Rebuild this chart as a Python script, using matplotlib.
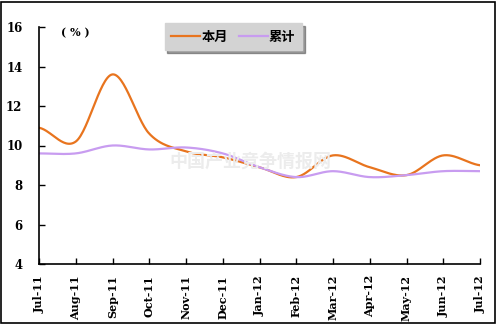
import numpy as np
import matplotlib
matplotlib.use("Agg")
import matplotlib.pyplot as plt
from matplotlib.patches import Rectangle

months = ["Jul-11", "Aug-11", "Sep-11", "Oct-11", "Nov-11", "Dec-11", "Jan-12",
          "Feb-12", "Mar-12", "Apr-12", "May-12", "Jun-12", "Jul-12"]
benyue = [10.9, 10.2, 13.6, 10.6, 9.7, 9.4, 8.9, 8.4, 9.5, 8.9, 8.5, 9.5, 9.0]  # 本月
leiji = [9.6, 9.6, 10.0, 9.8, 9.9, 9.6, 8.9, 8.4, 8.7, 8.4, 8.5, 8.7, 8.7]      # 累计


def smooth(y, n=30):
    # Catmull-Rom, the way the spreadsheet smooths its lines
    y = np.asarray(y, float)
    p = np.concatenate([[y[0]], y, [y[-1]]])
    xs, ys = [], []
    for i in range(len(y) - 1):
        t = np.linspace(0, 1, n, endpoint=False)
        p0, p1, p2, p3 = p[i], p[i + 1], p[i + 2], p[i + 3]
        v = 0.5 * (2 * p1 + (-p0 + p2) * t + (2 * p0 - 5 * p1 + 4 * p2 - p3) * t**2
                   + (-p0 + 3 * p1 - 3 * p2 + p3) * t**3)
        xs.append(i + t)
        ys.append(v)
    xs.append([len(y) - 1])
    ys.append([y[-1]])
    return np.concatenate(xs), np.concatenate(ys)


fig = plt.figure(figsize=(4.97, 3.24), dpi=100)
ax = fig.add_axes([39 / 497, 1 - 264 / 324, 441 / 497, 237 / 324])

x = np.arange(len(months))
sx, sy = smooth(benyue)
ax.plot(sx, sy, color="#E8741E", lw=1.6, label="本月")
sx, sy = smooth(leiji)
ax.plot(sx, sy, color="#C89CF0", lw=1.6, label="累计")

ax.set_xlim(0, len(months) - 1)
ax.set_ylim(4, 16)
ax.set_yticks(range(4, 17, 2))
ax.set_xticks(x)
ax.set_xticklabels(months, rotation=90, fontfamily="DejaVu Serif",
                   fontweight="bold", fontsize=8)
ax.set_yticklabels([str(v) for v in range(4, 17, 2)], fontfamily="DejaVu Serif",
                   fontweight="bold", fontsize=8.5)
ax.tick_params(axis="both", direction="in", length=4, width=1, color="black")
ax.tick_params(axis="y", pad=12)
ax.tick_params(axis="x", pad=8)
ax.spines["top"].set_visible(False)
ax.spines["right"].set_visible(False)
ax.spines["left"].set_linewidth(1.2)
ax.spines["bottom"].set_linewidth(1.2)

ax.text(0.05, 0.975, "( % )", transform=ax.transAxes, fontfamily="DejaVu Serif",
        fontweight="bold", fontsize=8, va="center")

# watermark
fig.text(250 / 497, 1 - 161 / 324, "中国产业竞争情报网", fontfamily="Noto Sans CJK SC",
         fontweight="bold", fontsize=13, color="#ececec", ha="center", va="center",
         zorder=0)

leg = ax.legend(loc="upper left", bbox_to_anchor=((158 - 39) / 441, 1.045), ncol=2,
                frameon=True, fancybox=False, shadow=True, handlelength=2.2,
                columnspacing=0.8, handletextpad=0.1, borderpad=0.5,
                prop={"family": ["Noto Sans CJK SC", "DejaVu Sans"],
                      "weight": "bold", "size": 9.5})
leg.get_frame().set_facecolor("#d3d3d3")
leg.get_frame().set_edgecolor("#d3d3d3")

fig.patches.append(Rectangle((0.002, 0.003), 0.994, 0.992, transform=fig.transFigure,
                             fill=False, edgecolor="black", lw=1.2))

fig.savefig("out.png", dpi=100)
